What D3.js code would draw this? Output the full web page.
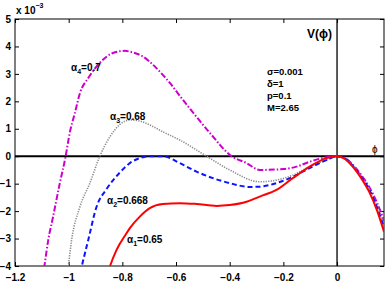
<!DOCTYPE html>
<html>
<head>
<meta charset="utf-8">
<script src="https://cdn.jsdelivr.net/npm/d3@7"></script>
<style>
  body { margin: 0; background: #fff; }
  text { font-family: "Liberation Sans", Arial, sans-serif; }
</style>
</head>
<body>
<script>
// curves V(phi) in units of 1e-3
const phiA1 = [-0.87, -0.847, -0.822, -0.784, -0.772, -0.735, -0.698, -0.649, -0.586, -0.524, -0.449, -0.4, -0.337, -0.288, -0.226, -0.165, -0.102, -0.04, 0, 0.03, 0.06, 0.09, 0.12, 0.15, 0.175]
const vA1 = [-4.9, -4.04, -3.42, -2.8, -2.62, -2.2, -1.89, -1.74, -1.71, -1.74, -1.81, -1.78, -1.66, -1.47, -1.23, -0.8, -0.38, -0.07, 0, -0.1, -0.4, -0.8, -1.3, -2.0, -2.75]

const phiA2 = [-0.97, -0.952, -0.927, -0.896, -0.859, -0.81, -0.772, -0.735, -0.698, -0.649, -0.586, -0.524, -0.462, -0.4, -0.325, -0.288, -0.226, -0.165, -0.102, -0.04, 0, 0.03, 0.06, 0.09, 0.12, 0.15, 0.175]
const vA2 = [-4.8, -4.04, -3.05, -1.84, -1.2, -0.6, -0.25, -0.07, 0, 0, -0.25, -0.56, -0.8, -0.98, -1.12, -1.11, -0.98, -0.75, -0.43, -0.14, 0, -0.09, -0.37, -0.75, -1.22, -1.9, -2.6]

const phiA3 = [-1.02, -1.002, -0.989, -0.958, -0.921, -0.884, -0.847, -0.81, -0.772, -0.735, -0.698, -0.649, -0.586, -0.486, -0.4, -0.288, -0.226, -0.165, -0.102, -0.04, 0, 0.03, 0.06, 0.09, 0.12, 0.15, 0.175]
const vA3 = [-4.9, -4.04, -3.05, -1.84, -0.98, 0, 0.7, 1.15, 1.32, 1.28, 1.14, 0.89, 0.59, 0, -0.5, -0.93, -0.87, -0.69, -0.38, -0.14, 0, -0.08, -0.35, -0.72, -1.18, -1.82, -2.5]

const phiA4 = [-1.105, -1.091, -1.076, -1.058, -1.033, -1.012, -0.996, -0.977, -0.958, -0.927, -0.884, -0.835, -0.79, -0.772, -0.723, -0.673, -0.623, -0.574, -0.524, -0.474, -0.393, -0.337, -0.288, -0.2, -0.151, -0.102, -0.04, 0, 0.03, 0.06, 0.09, 0.12, 0.15, 0.175]
const vA4 = [-4.9, -4.04, -3.05, -2.2, -0.98, -0.04, 0.85, 1.57, 2.3, 2.85, 3.4, 3.76, 3.84, 3.81, 3.63, 3.21, 2.67, 2.05, 1.44, 0.85, 0, -0.25, -0.5, -0.47, -0.38, -0.2, -0.04, 0, -0.07, -0.32, -0.68, -1.12, -1.72, -2.35]

const xTicks = [-1.2, -1, -0.8, -0.6, -0.4, -0.2, 0]
const yTicks = [-4, -3, -2, -1, 0, 1, 2, 3, 4, 5]
const params = ["σ=0.001", "δ=1", "p=0.1", "M=2.65"]

const W = 387, H = 283
const L = 15, R = 384, T = 19, B = 266

const svg = d3.select('body').append('svg')
    .attr('width', W)
    .attr('height', H)

const x = d3.scaleLinear().domain([-1.2, 0.175]).range([L, R])
const y = d3.scaleLinear().domain([-4, 5]).range([B, T])

svg.append('clipPath').attr('id', 'clip')
  .append('rect').attr('x', L).attr('y', T).attr('width', R - L).attr('height', B - T)

// frame ticks, all four sides, inward
const tk = 4
svg.append('g').attr('transform', `translate(0,${B})`)
    .call(d3.axisBottom(x).tickValues(xTicks).tickSizeInner(-tk).tickSizeOuter(0).tickFormat(d => String(d).replace('-', '\u2212')))
    .call(g => g.select('.domain').remove())
    .call(g => g.selectAll('text').attr('dy', '0').attr('y', 15).style('font-size', '10px').style('font-weight', 'bold'))
svg.append('g').attr('transform', `translate(0,${T})`)
    .call(d3.axisTop(x).tickValues(xTicks).tickSizeInner(-tk).tickSizeOuter(0).tickFormat(''))
    .call(g => g.select('.domain').remove())
svg.append('g').attr('transform', `translate(${L},0)`)
    .call(d3.axisLeft(y).tickValues(yTicks).tickSizeInner(-tk).tickSizeOuter(0).tickFormat(d => String(d).replace('-', '\u2212')))
    .call(g => g.select('.domain').remove())
    .call(g => g.selectAll('text').attr('x', -4).style('font-size', '10px').style('font-weight', 'bold'))
svg.append('g').attr('transform', `translate(${R},0)`)
    .call(d3.axisRight(y).tickValues(yTicks).tickSizeInner(-tk).tickSizeOuter(0).tickFormat(''))
    .call(g => g.select('.domain').remove())

svg.append('rect')
    .attr('x', L).attr('y', T).attr('width', R - L).attr('height', B - T)
    .attr('fill', 'none').attr('stroke', '#000').attr('stroke-width', 1)

// zero lines
svg.append('line')
    .attr('x1', L).attr('x2', R).attr('y1', y(0)).attr('y2', y(0))
    .attr('stroke', '#000').attr('stroke-width', 2)
svg.append('line')
    .attr('x1', x(0)).attr('x2', x(0)).attr('y1', T).attr('y2', B)
    .attr('stroke', '#000').attr('stroke-width', 1.3)

const line = d3.line().x(d => x(d[0])).y(d => y(d[1])).curve(d3.curveMonotoneX)
const series = [
    { phi: phiA4, v: vA4, color: '#cc00cc', dash: '6,2,1.5,2', w: 2 },
    { phi: phiA3, v: vA3, color: '#888888', dash: '1.2,1.3', w: 1.6 },
    { phi: phiA2, v: vA2, color: '#0a14ff', dash: '5,3', w: 2 },
    { phi: phiA1, v: vA1, color: '#ff0000', dash: null, w: 2 }
]
const curves = svg.append('g').attr('clip-path', 'url(#clip)')
for (let s of series) {
    curves.append('path')
        .attr('d', line(d3.zip(s.phi, s.v)))
        .attr('fill', 'none')
        .attr('stroke', s.color)
        .attr('stroke-width', s.w)
        .attr('stroke-dasharray', s.dash)
}

// labels
const lab = [
    { sub: '4', val: '=0.7', px: 71, py: 71 },
    { sub: '3', val: '=0.68', px: 110, py: 120 },
    { sub: '2', val: '=0.668', px: 107, py: 204 },
    { sub: '1', val: '=0.65', px: 127, py: 243 }
]
for (let l of lab) {
    const t = svg.append('text').attr('x', l.px).attr('y', l.py)
        .style('font-size', '10px').style('font-weight', 'bold')
    t.append('tspan').text('α')
    t.append('tspan').attr('dy', 3).style('font-size', '7px').text(l.sub)
    t.append('tspan').attr('dy', -3).text(l.val)
}

svg.append('g').selectAll('text').data(params).join('text')
    .attr('x', 267).attr('y', (d, i) => 75 + i * 12)
    .style('font-size', '9.5px').style('font-weight', 'bold')
    .text(d => d)

svg.append('text').attr('x', 307).attr('y', 38)
    .style('font-size', '12px').style('font-weight', 'bold').text('V(ϕ)')
svg.append('text').attr('x', 372).attr('y', 153)
    .style('font-size', '10px').text('ϕ')

const ex = svg.append('text').attr('x', 16).attr('y', 14)
    .style('font-size', '10px').style('font-weight', 'bold')
ex.append('tspan').text('x 10')
ex.append('tspan').attr('dy', -6).style('font-size', '7px').text('−3')
</script>
</body>
</html>
